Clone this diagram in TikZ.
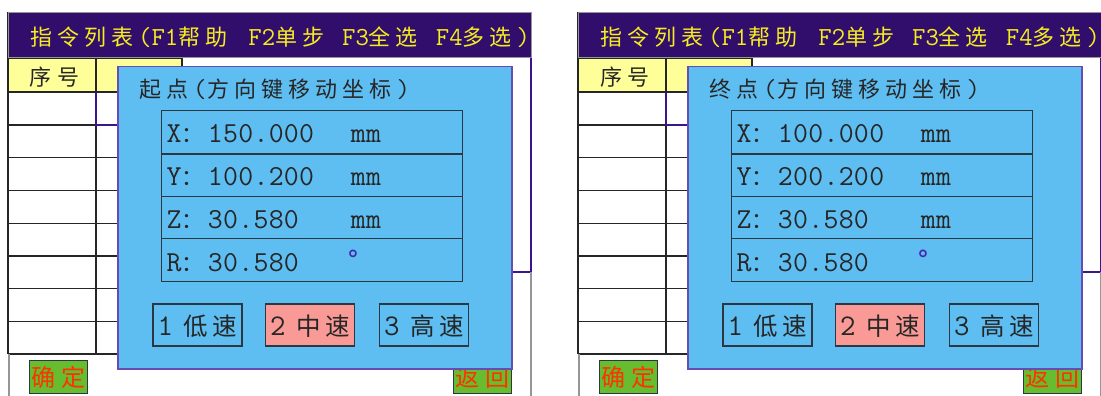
\documentclass[tikz,border=0pt]{standalone}
\usepackage{fontspec}
\newfontfamily\cjk{Noto Sans CJK SC}
\newcommand\lat{\ttfamily}
\definecolor{hdrbg}{RGB}{50,14,108}
\definecolor{hdrtx}{RGB}{245,238,30}
\definecolor{yel}{RGB}{255,255,153}
\definecolor{dlgbg}{RGB}{94,190,242}
\definecolor{dlgbd}{RGB}{104,76,178}
\definecolor{sal}{RGB}{250,154,150}
\definecolor{grn}{RGB}{104,188,48}
\definecolor{btred}{RGB}{255,50,0}
\definecolor{ink}{RGB}{38,38,38}
\definecolor{purp}{RGB}{60,20,140}
\definecolor{degc}{RGB}{70,40,170}
\definecolor{fgray}{RGB}{150,150,150}
\definecolor{bline}{RGB}{45,55,65}
\newlength\lsp
\def\spaceout#1{\ifx#1\relax\else#1\hskip\lsp\relax\expandafter\spaceout\fi}
\newcommand\zh[2][5pt]{{\cjk\lsp=#1\spaceout#2\relax}}
\newcommand\en[2][0pt]{{\lat\fontsize{26}{26}\selectfont\lsp=#1\spaceout#2\relax}}
\newcommand\num[2][0.3pt]{{\lat\fontsize{29}{29}\selectfont\lsp=#1\spaceout#2\relax}}
\newcommand\dig[1]{{\lat\fontsize{30}{30}\selectfont#1}}
\tikzset{
  tline/.style={draw=ink, line width=1.3pt},
  hdrbar/.style={draw=fgray, fill=hdrbg, line width=1pt, minimum width=523pt, minimum height=45pt, anchor=north west, inner sep=0pt},
  hdrtext/.style={text=hdrtx, font=\fontsize{22}{22}\selectfont, anchor=base west, inner sep=0pt},
  plain/.style={text=ink, font=\fontsize{22}{22}\selectfont, anchor=base west, inner sep=0pt},
  dlg/.style={draw=dlgbd, fill=dlgbg, line width=1.5pt, minimum width=394pt, minimum height=302pt, anchor=north west, inner sep=0pt},
  fieldrow/.style={draw=bline, fill=dlgbg, line width=1.2pt, anchor=north west, minimum width=301pt, minimum height=42.75pt, text width=291pt, align=left, inner xsep=5pt, inner ysep=0pt, text height=22pt, text depth=0pt, text=ink, font=\fontsize{22}{22}\selectfont},
  spd/.style={draw=bline, line width=1.2pt, minimum width=89pt, minimum height=42pt, inner sep=0pt, text height=20pt, text depth=0pt, text=ink, font=\fontsize{24.5}{24.5}\selectfont},
  okbtn/.style={draw=bline, fill=grn, line width=1pt, minimum width=58pt, minimum height=33pt, inner sep=0pt, text height=19pt, text depth=0pt, text=btred, font=\fontsize{24}{24}\selectfont},
  degsign/.style={text=degc, font=\fontsize{27}{27}\selectfont\lat, anchor=base west, inner sep=0pt}
}
\newcommand\rowtext[3]{\num{#1}\zh[4pt]{：}\makebox[143pt][l]{\num{#2}}\num{#3}}
\newcommand\panel[6]{%
  \fill[white] (8,57) rectangle (531,396);
  \fill[yel] (8,58) rectangle (182,92);
  \foreach \yy in {58,92,125,157.75,190.5,223.25,256,288.75,321.5,354}{\draw[tline] (8,\yy) -- (140,\yy);}
  \draw[tline] (96,58) -- (96,354);
  \draw[tline] (140,58) -- (182,58) -- (182,92) -- (140,92);
  \draw[purp, line width=1.2pt] (96,92.7) -- (96,125) -- (140,125);
  \draw[ink, line width=2pt] (8,12) -- (8,354);
  \draw[fgray, line width=1.2pt] (9,354) -- (9,396);
  \draw[purp, line width=1.2pt] (531,57) -- (531,272) -- (511,272);
  \draw[fgray, line width=1.2pt] (531,272) -- (531,396);
  \node[plain, anchor=base] (#1-seq) at (55,85.5) {\zh[6pt]{序号}};
  \node[okbtn] (#1-ok) at (58,376.5) {\zh[6pt]{确定}};
  \node[okbtn] (#1-back) at (482,376.5) {\zh[6pt]{返回}};
  \node[hdrbar] (#1-hdr) at (8,12) {};
  \begin{scope}
    \clip (8,12) rectangle (531,57);
    \node[hdrtext] (#1-hdrtxt) at (30,45.5) {\zh{指令列表}\en{(F1}\zh{帮助}\hskip 16pt\en{F2}\zh{单步}\hskip 13pt\en{F3}\zh{全选}\hskip 13pt\en{F4}\zh{多选}\en{)}};
  \end{scope}
  \node[dlg] (#1-dlg) at (117,66) {};
  \node[plain] (#1-title) at (139,98) {\zh{#2}\en[1pt]{(}\zh{方向键移动坐标}\en{)}};
  \node[fieldrow] (#1-rx) at (161,110) {\rowtext{X}{#3}{mm}};
  \node[fieldrow] (#1-ry) at (161,152.75) {\rowtext{Y}{#4}{mm}};
  \node[fieldrow] (#1-rz) at (161,195.5) {\rowtext{Z}{#5}{mm}};
  \node[fieldrow] (#1-rr) at (161,238.25) {\rowtext{R}{#6}{}};
  \draw[bline, line width=2pt] (#1-rx.south west) -- (#1-rx.south east);
  \node[degsign] (#1-deg) at (346,266) {°};
  \node[spd, fill=dlgbg] (#1-s1) at (197.5,325) {\dig{1}\hskip 11pt\zh[4.5pt]{低速}};
  \node[spd, fill=sal] (#1-s2) at (310,325) {\dig{2}\hskip 11pt\zh[4.5pt]{中速}};
  \node[spd, fill=dlgbg] (#1-s3) at (424,325) {\dig{3}\hskip 11pt\zh[4.5pt]{高速}};
}
\begin{document}
\begin{tikzpicture}[x=1pt,y=-1pt]
  \useasboundingbox (0,0) rectangle (1101,396);
  \clip (0,0) rectangle (1101,396);
  \fill[white] (0,0) rectangle (1101,396);
  \panel{L}{起点}{150.000}{100.200}{30.580}{30.580}
  \begin{scope}[shift={(570,0)}]
    \panel{R}{终点}{100.000}{200.200}{30.580}{30.580}
  \end{scope}
\end{tikzpicture}
\end{document}
